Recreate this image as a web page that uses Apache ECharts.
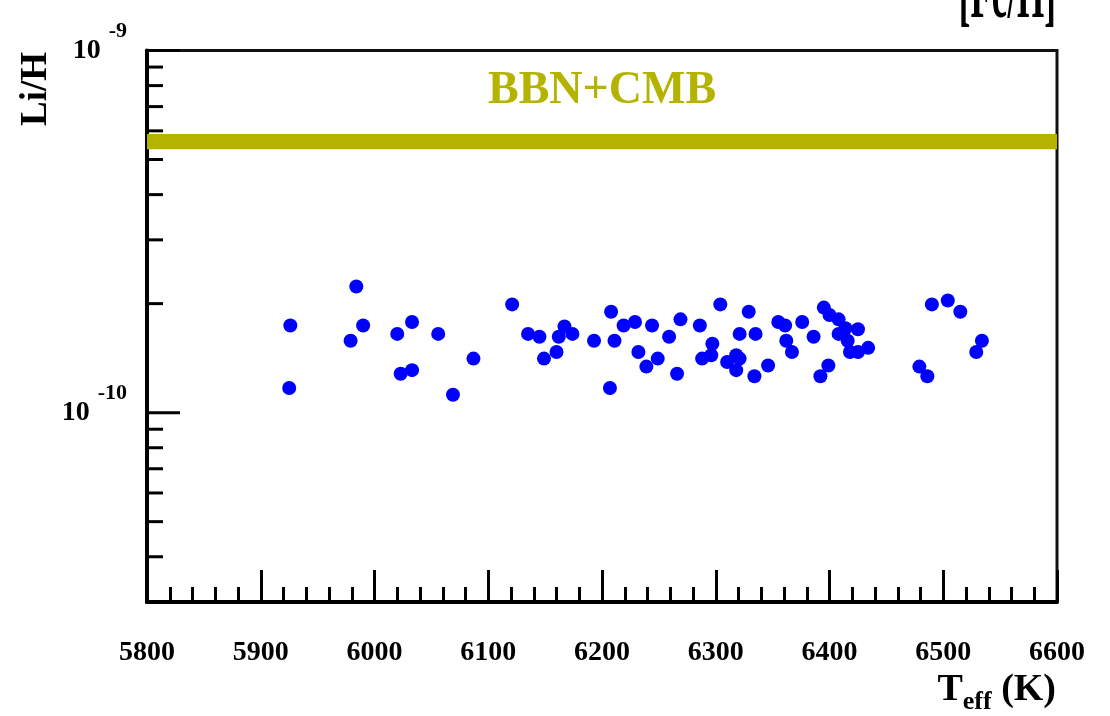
<!DOCTYPE html>
<html>
<head>
<meta charset="utf-8">
<script src="https://cdn.jsdelivr.net/npm/echarts@6/dist/echarts.min.js"></script>
<style>
  html, body { margin: 0; padding: 0; background: #fff; }
  #chart { width: 1110px; height: 716px; }
</style>
</head>
<body>
<div id="chart"></div>
<script>
// Effective temperature of each star (K)
const teff = [
  5925, 5926, 5979, 5984, 5990, 6020, 6023, 6033, 6033, 6056,
  6069, 6087, 6121, 6135, 6145, 6149, 6160, 6162, 6167, 6174,
  6193, 6207, 6208, 6211, 6219, 6229, 6232, 6239, 6244, 6249,
  6259, 6266, 6269, 6286, 6288, 6296, 6297, 6304, 6310, 6318,
  6321, 6318, 6321, 6329, 6334, 6335, 6346, 6355, 6361, 6362,
  6367, 6376, 6386, 6392, 6395, 6399, 6400, 6408, 6408, 6414,
  6416, 6418, 6425, 6425, 6434, 6479, 6486, 6490, 6504, 6515,
  6529, 6534
];

// Lithium abundance Li/H of each star
const liH = [
  1.17e-10, 1.74e-10, 1.58e-10, 2.23e-10, 1.74e-10, 1.65e-10, 1.28e-10, 1.31e-10, 1.78e-10, 1.65e-10,
  1.12e-10, 1.41e-10, 1.99e-10, 1.65e-10, 1.62e-10, 1.41e-10, 1.47e-10, 1.62e-10, 1.73e-10, 1.65e-10,
  1.58e-10, 1.17e-10, 1.90e-10, 1.58e-10, 1.74e-10, 1.78e-10, 1.47e-10, 1.34e-10, 1.74e-10, 1.41e-10,
  1.62e-10, 1.28e-10, 1.81e-10, 1.74e-10, 1.41e-10, 1.44e-10, 1.55e-10, 1.99e-10, 1.38e-10, 1.44e-10,
  1.41e-10, 1.31e-10, 1.65e-10, 1.90e-10, 1.26e-10, 1.65e-10, 1.35e-10, 1.78e-10, 1.74e-10, 1.58e-10,
  1.47e-10, 1.78e-10, 1.62e-10, 1.26e-10, 1.95e-10, 1.35e-10, 1.86e-10, 1.81e-10, 1.65e-10, 1.71e-10,
  1.58e-10, 1.47e-10, 1.70e-10, 1.47e-10, 1.51e-10, 1.34e-10, 1.26e-10, 1.99e-10, 2.04e-10, 1.90e-10,
  1.47e-10, 1.58e-10
];

// Primordial prediction (BBN + CMB), lower and upper edge
const bbnCmbBand = [5.34e-10, 5.88e-10];

// Axis ranges
const xRange = [5800, 6600];
const xStep = 100;
const yRange = [3e-11, 1e-9];

// Decade and in-decade ticks on the log axis
const yMajorTicks = [1e-10, 1e-9];
const yMinorTicks = [4e-11, 5e-11, 6e-11, 7e-11, 8e-11, 9e-11,
                     2e-10, 3e-10, 4e-10, 5e-10, 6e-10, 7e-10, 8e-10, 9e-10];

const SERIF = '"Liberation Serif", "Times New Roman", serif';
const OLIVE = '#b4b400';

const points = teff.map((t, i) => [t, liH[i]]);
const tickData = yMajorTicks.map(v => [xRange[0], v, 1])
  .concat(yMinorTicks.map(v => [xRange[0], v, 0]));

const chart = echarts.init(document.getElementById('chart'), null, { renderer: 'canvas' });

chart.setOption({
  animation: false,
  backgroundColor: '#ffffff',
  grid: {
    left: 147, right: 53, top: 50.5, bottom: 114,
    show: true, borderColor: '#111', borderWidth: 3, backgroundColor: 'transparent'
  },
  xAxis: {
    type: 'value',
    min: xRange[0], max: xRange[1], interval: xStep,
    axisLine: { show: true, onZero: false, lineStyle: { color: '#000', width: 4 } },
    axisTick: { show: true, inside: true, length: 32, lineStyle: { color: '#000', width: 3 } },
    minorTick: { show: true, splitNumber: 5, length: 15, lineStyle: { color: '#000', width: 3 } },
    splitLine: { show: false },
    minorSplitLine: { show: false },
    axisLabel: {
      margin: 37, color: '#000', fontFamily: SERIF, fontWeight: 'bold', fontSize: 28,
      formatter: v => String(v)
    }
  },
  yAxis: {
    type: 'log', logBase: 10,
    min: yRange[0], max: yRange[1],
    axisLine: { show: true, onZero: false, lineStyle: { color: '#000', width: 4 } },
    axisTick: { show: false },
    splitLine: { show: false },
    axisLabel: {
      margin: 20,
      formatter: v => {
        const e = Math.log10(v);
        const r = Math.round(e);
        if (Math.abs(e - r) > 1e-6) return '';
        return '{b|10}{s|' + r + '}';
      },
      rich: {
        b: { fontFamily: SERIF, fontWeight: 'bold', fontSize: 28, color: '#000', lineHeight: 60 },
        s: { fontFamily: SERIF, fontWeight: 'bold', fontSize: 22, color: '#000',
             verticalAlign: 'top', padding: [0, 0, 0, 8] }
      }
    }
  },
  series: [
    {
      name: 'stars',
      type: 'scatter',
      data: points,
      symbol: 'circle',
      symbolSize: 14,
      itemStyle: { color: '#0000ff', opacity: 1 },
      z: 3,
      markArea: {
        silent: true,
        itemStyle: { color: OLIVE, opacity: 1 },
        label: {
          show: true, position: 'top', distance: 20,
          formatter: 'BBN+CMB',
          color: OLIVE, fontFamily: SERIF, fontWeight: 'bold', fontSize: 46
        },
        data: [[{ yAxis: bbnCmbBand[0] }, { yAxis: bbnCmbBand[1] }]]
      }
    },
    {
      name: 'yTicks',
      type: 'custom',
      silent: true,
      clip: false,
      z: 4,
      data: tickData,
      renderItem: (params, api) => {
        const p = api.coord([api.value(0), api.value(1)]);
        const len = api.value(2) ? 33 : 16;
        return {
          type: 'line',
          shape: { x1: p[0], y1: p[1], x2: p[0] + len, y2: p[1] },
          style: { stroke: '#000', lineWidth: 3 }
        };
      }
    }
  ],
  graphic: [
    {
      type: 'text', x: 36, y: 89, rotation: Math.PI / 2,
      style: {
        text: 'Li/H', fill: '#000',
        font: 'bold 37px ' + SERIF,
        align: 'center', verticalAlign: 'middle',
        textAlign: 'center', textVerticalAlign: 'middle'
      }
    },
    {
      type: 'text', x: 1056, y: 690,
      style: {
        text: '{t|T}{e|eff}{k| (K)}',
        align: 'right', verticalAlign: 'middle',
        textAlign: 'right', textVerticalAlign: 'middle',
        rich: {
          t: { fontFamily: SERIF, fontWeight: 'bold', fontSize: 38, fill: '#000', lineHeight: 50 },
          e: { fontFamily: SERIF, fontWeight: 'bold', fontSize: 26, fill: '#000', verticalAlign: 'bottom' },
          k: { fontFamily: SERIF, fontWeight: 'bold', fontSize: 38, fill: '#000', lineHeight: 50 }
        }
      }
    },
    {
      // tall title running off the top edge, only its lower part shows
      type: 'text', x: 1056, y: 36, scaleY: 2.2,
      style: {
        text: '[Fe/H]', fill: '#000',
        font: 'bold 35px ' + SERIF,
        align: 'right', verticalAlign: 'bottom',
        textAlign: 'right', textVerticalAlign: 'bottom'
      }
    }
  ]
});
</script>
</body>
</html>
